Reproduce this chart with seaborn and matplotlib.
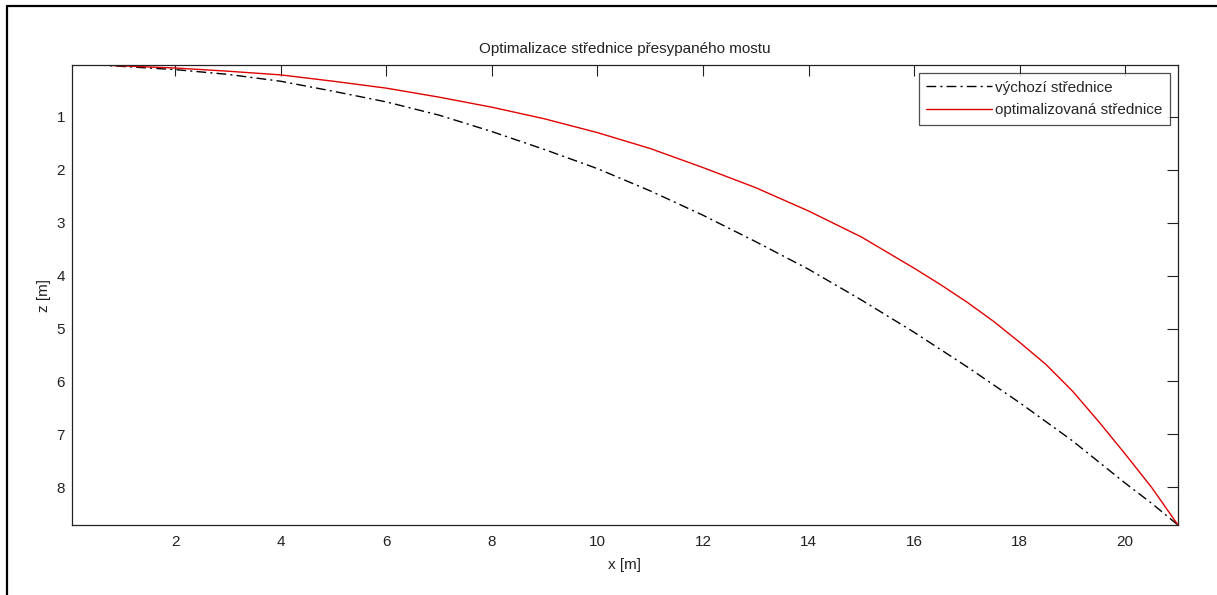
import numpy as np
import pandas as pd
import matplotlib
matplotlib.use("Agg")
import matplotlib.pyplot as plt
from matplotlib.lines import Line2D
import seaborn as sns

# Data
x_initial = [0.5, 1, 2, 3, 4, 5, 6, 7, 8, 9, 10, 11, 12, 13, 14, 15, 16, 17, 18, 19, 20, 20.5, 21.0]
z_initial = [0.02, 0.05, 0.11, 0.2, 0.33, 0.52, 0.72, 0.97, 1.28, 1.62, 1.98, 2.4, 2.86, 3.36,
             3.88, 4.46, 5.07, 5.72, 6.4, 7.12, 7.92, 8.3, 8.71]
x_optimized = [0.5, 1, 2, 3, 4, 5, 6, 7, 8, 9, 10, 11, 12, 13, 14, 15, 16, 16.5, 17, 17.5,
               18, 18.5, 19, 19.5, 20, 20.5, 21.0]
z_optimized = [0.02, 0.04, 0.08, 0.14, 0.21, 0.33, 0.46, 0.63, 0.82, 1.04, 1.3, 1.6, 1.96, 2.34,
               2.78, 3.27, 3.86, 4.17, 4.5, 4.86, 5.26, 5.68, 6.18, 6.76, 7.37, 8.0, 8.71]
series_names = ["výchozí střednice", "optimalizovaná střednice"]
x_ticks = [2, 4, 6, 8, 10, 12, 14, 16, 18, 20]
y_ticks = [1, 2, 3, 4, 5, 6, 7, 8]
title = "Optimalizace střednice přesypaného mostu"
x_label = "x [m]"
y_label = "z [m]"

sns.set_style("white")
plt.rcParams["font.family"] = ["Liberation Sans", "DejaVu Sans"]

df = pd.DataFrame({
    "x": x_initial + x_optimized,
    "z": z_initial + z_optimized,
    "series": [series_names[0]] * len(x_initial) + [series_names[1]] * len(x_optimized),
})

FS = 11
TXT = "#222222"
W, H = 1217, 595
fig = plt.figure(figsize=(W / 100, H / 100), dpi=100)
ax = fig.add_axes([72 / W, 1 - 525 / H, (1178 - 72) / W, (525 - 65) / H])

sns.lineplot(data=df, x="x", y="z", hue="series", style="series",
             palette={series_names[0]: "black", series_names[1]: "#e00000"},
             dashes={series_names[0]: (7, 3, 1.5, 3), series_names[1]: ""},
             sort=False, estimator=None, linewidth=1.0, ax=ax)

ax.set_xlim(0.045, 21.0)
ax.set_ylim(8.71, 0.023)
ax.set_xticks(x_ticks)
ax.set_yticks(y_ticks)
ax.tick_params(direction="in", length=8, width=0.8, top=True, right=True,
               labelsize=FS, colors=TXT, pad=5)
ax.tick_params(axis="x", pad=7)
for s in ax.spines.values():
    s.set_visible(True)
    s.set_color(TXT)
    s.set_linewidth(0.9)

ax.set_title(title, fontsize=FS, pad=9, color=TXT)
ax.set_xlabel(x_label, fontsize=FS, color=TXT, labelpad=7)
ax.set_ylabel(y_label, fontsize=FS, color=TXT, labelpad=4)

leg = ax.legend(loc="upper right", bbox_to_anchor=(0.9928, 0.9826), fontsize=FS,
                frameon=True, fancybox=False, shadow=False, handlelength=4.3,
                handletextpad=0.2, borderaxespad=0, borderpad=0.5, labelspacing=0.55)
leg.get_frame().set_edgecolor(TXT)
leg.get_frame().set_linewidth(0.9)
leg.set_title(None)

# partial outer frame (top and left)
fig.add_artist(Line2D([7 / W, 1.0], [1 - 6 / H, 1 - 6 / H], transform=fig.transFigure,
                      color="black", linewidth=1.6))
fig.add_artist(Line2D([7 / W, 7 / W], [0.0, 1 - 6 / H], transform=fig.transFigure,
                      color="black", linewidth=1.6))

fig.savefig("out.png", dpi=100, facecolor="white")
